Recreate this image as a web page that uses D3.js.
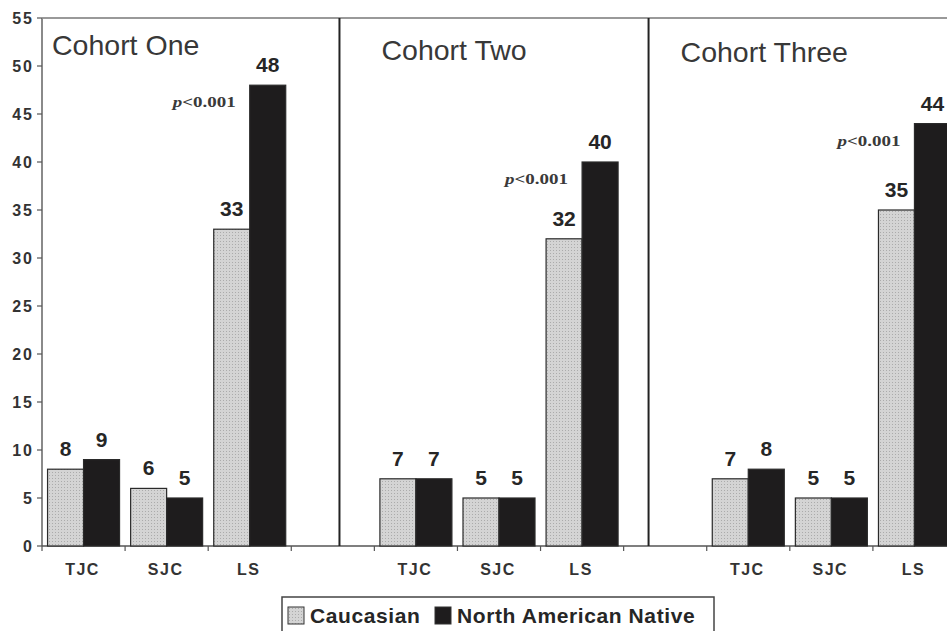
<!DOCTYPE html>
<html lang="en">
<head>
    <meta charset="UTF-8">
    <title>Cohort bar chart</title>
    <script src="https://d3js.org/d3.v7.min.js"></script>
    <style>
        body { margin: 0; background: #fff; }
        svg { display: block; font-family: Arial, "Liberation Sans", sans-serif; }
    </style>
</head>
<body>
    <div id="chart"></div>

    <script>
        // Data
        const cohorts = ['Cohort One', 'Cohort Two', 'Cohort Three'];
        const measures = ['TJC', 'SJC', 'LS'];
        const caucasian = [[8, 6, 33], [7, 5, 32], [7, 5, 35]];
        const nativeAm = [[9, 5, 48], [7, 5, 40], [8, 5, 44]];
        const seriesNames = ['Caucasian', 'North American Native'];
        const yTicks = d3.range(0, 56, 5);

        const width = 947, height = 631;
        const plotLeft = 42, plotRight = 956, plotTop = 18, plotBottom = 546;

        const svg = d3.select('#chart').append('svg')
            .attr('width', width)
            .attr('height', height);

        // stipple pattern for the grey bars
        const defs = svg.append('defs');
        const pat = defs.append('pattern')
            .attr('id', 'stipple')
            .attr('width', 3).attr('height', 3)
            .attr('patternUnits', 'userSpaceOnUse');
        pat.append('rect').attr('width', 3).attr('height', 3).attr('fill', '#d4d4d4');
        pat.append('rect').attr('x', 1).attr('y', 1).attr('width', 1).attr('height', 1).attr('fill', '#ababab');

        // one slot per measure plus a blank slot between cohorts
        const slots = [];
        cohorts.forEach((c, i) => {
            measures.forEach(m => slots.push(c + '|' + m));
            if (i < cohorts.length - 1) slots.push('gap' + i);
        });

        const x = d3.scaleBand().domain(slots).range([plotLeft, plotRight]);
        const y = d3.scaleLinear().domain([0, 55]).range([plotBottom, plotTop]);
        const bw = x.bandwidth();
        const barW = 36;
        const pad = (bw - 2 * barW) / 2;

        // frame: top line, y axis, x axis
        svg.append('line')
            .attr('x1', plotLeft).attr('x2', width)
            .attr('y1', y(55)).attr('y2', y(55))
            .attr('stroke', '#777').attr('stroke-width', 1.5);

        svg.append('line')
            .attr('x1', plotLeft).attr('x2', plotLeft)
            .attr('y1', y(55)).attr('y2', y(0))
            .attr('stroke', '#8a8a8a').attr('stroke-width', 2);

        svg.append('line')
            .attr('x1', plotLeft).attr('x2', width)
            .attr('y1', y(0)).attr('y2', y(0))
            .attr('stroke', '#555').attr('stroke-width', 1.5);

        // y ticks + labels
        const yt = svg.append('g');
        yt.selectAll('line').data(yTicks).enter().append('line')
            .attr('x1', plotLeft - 5).attr('x2', plotLeft)
            .attr('y1', d => y(d)).attr('y2', d => y(d))
            .attr('stroke', '#555').attr('stroke-width', 1.2);
        yt.selectAll('text').data(yTicks).enter().append('text')
            .attr('x', plotLeft - 8)
            .attr('y', d => y(d))
            .attr('dy', '0.36em')
            .attr('text-anchor', 'end')
            .attr('font-size', 16)
            .attr('font-weight', 'bold')
            .attr('letter-spacing', 2)
            .attr('fill', '#333')
            .text(d => d);

        // x ticks at every slot boundary
        const boundaries = slots.map(s => x(s));
        svg.append('g').selectAll('line').data(boundaries).enter().append('line')
            .attr('x1', d => d).attr('x2', d => d)
            .attr('y1', y(0)).attr('y2', y(0) + 5)
            .attr('stroke', '#555').attr('stroke-width', 1.2);

        // panel dividers
        const dividerPos = [x('gap0') + bw * 0.58, x('gap1') + bw * 0.3];
        svg.append('g').selectAll('line').data(dividerPos).enter().append('line')
            .attr('x1', d => d).attr('x2', d => d)
            .attr('y1', y(55)).attr('y2', y(0))
            .attr('stroke', '#222').attr('stroke-width', 2);

        // cohort titles
        const panelLeft = [plotLeft, dividerPos[0], dividerPos[1]];
        const titleDx = [10, 42, 32];
        const titleY = [55, 60, 62];
        svg.append('g').selectAll('text').data(cohorts).enter().append('text')
            .attr('x', (d, i) => panelLeft[i] + titleDx[i])
            .attr('y', (d, i) => titleY[i])
            .attr('font-size', 28.5)
            .attr('fill', '#383838')
            .text(d => d);

        // bars
        const bars = [];
        cohorts.forEach((c, ci) => {
            measures.forEach((m, mi) => {
                const x0 = x(c + '|' + m) + pad;
                bars.push({ x: x0, v: caucasian[ci][mi], s: 0 });
                bars.push({ x: x0 + barW, v: nativeAm[ci][mi], s: 1 });
            });
        });

        svg.append('g').selectAll('rect').data(bars).enter().append('rect')
            .attr('x', d => d.x)
            .attr('y', d => y(d.v))
            .attr('width', barW)
            .attr('height', d => y(0) - y(d.v))
            .attr('fill', d => d.s === 0 ? 'url(#stipple)' : '#1e1c1d')
            .attr('stroke', '#2a2a2a')
            .attr('stroke-width', 1.2);

        svg.append('g').selectAll('text').data(bars).enter().append('text')
            .attr('x', d => d.x + barW / 2)
            .attr('y', d => y(d.v) - 13)
            .attr('text-anchor', 'middle')
            .attr('font-size', 21)
            .attr('font-weight', 'bold')
            .attr('fill', '#262626')
            .text(d => d.v);

        // p-value notes, left of the LS black bar
        svg.append('g').selectAll('text').data(cohorts).enter().append('text')
            .attr('x', (d, i) => x(d + '|LS') + pad + barW - 14)
            .attr('y', (d, i) => y(nativeAm[i][2]) + 22)
            .attr('text-anchor', 'end')
            .attr('font-family', '"Liberation Serif", "Times New Roman", serif')
            .attr('font-size', 15)
            .attr('font-weight', 'bold')
            .attr('fill', '#3a3a3a')
            .attr('textLength', 63)
            .attr('lengthAdjust', 'spacingAndGlyphs')
            .html('<tspan font-style="italic">p</tspan>&lt;0.001');

        // category labels
        const catLabels = [];
        cohorts.forEach(c => measures.forEach(m => catLabels.push({ slot: c + '|' + m, m: m })));
        svg.append('g').selectAll('text').data(catLabels).enter().append('text')
            .attr('x', d => x(d.slot) + bw / 2 - 1)
            .attr('y', y(0) + 29)
            .attr('text-anchor', 'middle')
            .attr('font-size', 16)
            .attr('font-weight', 'bold')
            .attr('letter-spacing', 1.5)
            .attr('fill', '#333')
            .text(d => d.m);

        // legend
        const lg = svg.append('g').attr('transform', 'translate(282,597)');
        lg.append('rect')
            .attr('width', 432).attr('height', 45)
            .attr('fill', '#fff')
            .attr('stroke', '#444').attr('stroke-width', 1.5);
        const legendX = [6, 153];
        const legendFill = ['url(#stipple)', '#1e1c1d'];
        const li = lg.selectAll('.li').data(seriesNames).enter().append('g')
            .attr('transform', (d, i) => `translate(${legendX[i]},10)`);
        li.append('rect')
            .attr('width', 16).attr('height', 17)
            .attr('fill', (d, i) => legendFill[i])
            .attr('stroke', '#333').attr('stroke-width', 1);
        li.append('text')
            .attr('x', 22).attr('y', 16)
            .attr('font-size', 21)
            .attr('font-weight', 'bold')
            .attr('letter-spacing', 0.6)
            .attr('fill', '#262626')
            .text(d => d);
    </script>
</body>
</html>
